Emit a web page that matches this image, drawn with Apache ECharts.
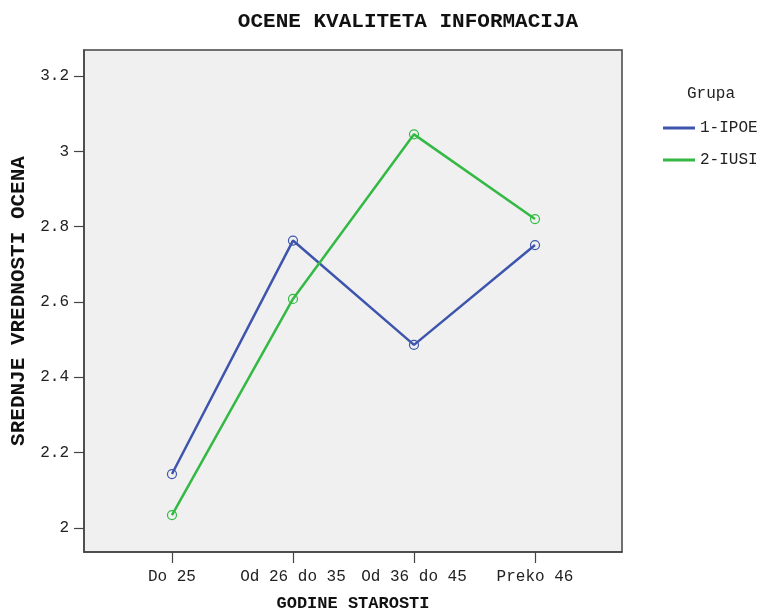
<!DOCTYPE html>
<html>
<head>
<meta charset="utf-8">
<script src="https://cdn.jsdelivr.net/npm/echarts@6/dist/echarts.min.js"></script>
<style>html,body{margin:0;padding:0;background:#fff;}#c{width:782px;height:610px;}</style>
</head>
<body>
<div id="c"></div>
<script>
var categories = ['Do 25', 'Od 26 do 35', 'Od 36 do 45', 'Preko 46'];
var seriesNames = ['1-IPOE', '2-IUSI'];
var ipoe = [2.143, 2.763, 2.486, 2.751];
var iusi = [2.034, 2.608, 3.045, 2.820];
var yTicks = [2, 2.2, 2.4, 2.6, 2.8, 3, 3.2];
var xPositions = [1, 2, 3, 4];

var font = '"Liberation Mono", "Courier New", monospace';
var chart = echarts.init(document.getElementById('c'), null, {renderer: 'canvas'});

function pts(vals) { return vals.map(function (v, i) { return [xPositions[i], v]; }); }

var blue = '#3E55AD', green = '#33B944';

chart.setOption({
  animation: false,
  backgroundColor: '#ffffff',
  title: [
    {text: 'OCENE KVALITETA INFORMACIJA', left: 408, top: 11, textAlign: 'center', padding: 0,
     textStyle: {fontFamily: font, fontSize: 21, fontWeight: 'bold', color: '#111'}},
    {text: 'Grupa', left: 687, top: 86, padding: 0,
     textStyle: {fontFamily: font, fontSize: 16, fontWeight: 'normal', color: '#222'}}
  ],
  legend: {
    data: [
      {name: seriesNames[0], itemStyle: {color: blue, borderWidth: 0}},
      {name: seriesNames[1], itemStyle: {color: green, borderWidth: 0}}
    ],
    orient: 'vertical', left: 663, top: 120, padding: 0,
    icon: 'rect', itemWidth: 32, itemHeight: 3, itemGap: 16,
    textStyle: {fontFamily: font, fontSize: 16, color: '#222'}
  },
  grid: {left: 84, top: 50, right: 160, bottom: 58, show: true, outerBoundsMode: 'none', containLabel: false,
         backgroundColor: '#F0F0F0', borderColor: '#444', borderWidth: 1.5},
  xAxis: {
    type: 'value', min: 0.273, max: 4.719,
    name: 'GODINE STAROSTI', nameLocation: 'middle', nameGap: 43,
    nameTextStyle: {fontFamily: font, fontSize: 17, fontWeight: 'bold', color: '#111'},
    axisLine: {show: true, lineStyle: {color: '#444', width: 1.5}},
    axisTick: {show: true, length: 11, customValues: xPositions, lineStyle: {color: '#444', width: 1.2}},
    axisLabel: {customValues: xPositions, margin: 17, fontFamily: font, fontSize: 16, color: '#222',
      formatter: function (v) { return categories[Math.round(v) - 1] || ''; }},
    splitLine: {show: false}
  },
  yAxis: {
    type: 'value', min: 1.936, max: 3.269,
    name: 'SREDNJE VREDNOSTI OCENA', nameLocation: 'middle', nameRotate: 90, nameGap: 52,
    nameTextStyle: {fontFamily: font, fontSize: 21, fontWeight: 'bold', color: '#111'},
    axisLine: {show: true, lineStyle: {color: '#444', width: 1.5}},
    axisTick: {show: true, length: 10, customValues: yTicks, lineStyle: {color: '#444', width: 1.2}},
    axisLabel: {customValues: yTicks, margin: 15, fontFamily: font, fontSize: 16, color: '#222',
      formatter: function (v) { return String(parseFloat(Number(v).toFixed(1))); }},
    splitLine: {show: false}
  },
  series: [
    {name: seriesNames[0], type: 'line', data: pts(ipoe), symbol: 'circle', symbolSize: 9,
     color: blue, lineStyle: {width: 2.5, color: blue},
     itemStyle: {color: 'rgba(0,0,0,0)', borderColor: blue, borderWidth: 1.2}},
    {name: seriesNames[1], type: 'line', data: pts(iusi), symbol: 'circle', symbolSize: 9,
     color: green, lineStyle: {width: 2.5, color: green},
     itemStyle: {color: 'rgba(0,0,0,0)', borderColor: green, borderWidth: 1.2}}
  ]
});
</script>
</body>
</html>
